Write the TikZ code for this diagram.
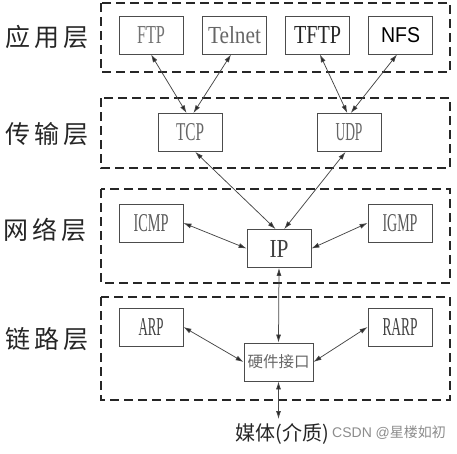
\documentclass[tikz,border=0pt]{standalone}
\usepackage{fontspec}
\usepackage{graphicx}
\setmainfont{Liberation Serif}
\newfontfamily\cjk{Noto Sans CJK SC}
\newfontfamily\lsans{Liberation Sans}
\usetikzlibrary{arrows.meta,calc}
\newcommand{\bxt}[2]{\resizebox{#1}{17pt}{#2}}
\begin{document}
\begin{tikzpicture}[x=1pt,y=-1pt,
  layer/.style={draw=black!85, line width=1.6pt, dash pattern=on 9pt off 5pt},
  pbox/.style={draw=black!70, line width=0.8pt, minimum width=64pt, minimum height=38pt, inner sep=0pt, text=black!70},
  conn/.style={draw=black!72, line width=0.75pt, {Latex[length=8pt,width=5pt,fill=black!85]}-{Latex[length=8pt,width=5pt,fill=black!85]}},
  lname/.style={font=\cjk\fontsize{25}{25}\selectfont, text=black!85, inner sep=0pt}
]
\useasboundingbox (0,0) rectangle (457,453);
% layer frames
\draw[layer] (101,3) rectangle (450,72);
\draw[layer] (101,98) rectangle (450,168);
\draw[layer] (101,189) rectangle (450,283);
\draw[layer] (101,297) rectangle (450,400);
% layer names
\node[lname] (la) at (47,37) {应\hspace{4pt}用\hspace{4pt}层};
\node[lname] (lt) at (47,134) {传\hspace{4pt}输\hspace{4pt}层};
\node[lname] (ln) at (45,230) {网\hspace{4pt}络\hspace{4pt}层};
\node[lname] (ll) at (47,339) {链\hspace{4pt}路\hspace{4pt}层};
% application
\node[pbox, text=black!55] (ftp) at (151,35) {\bxt{28pt}{FTP}};
\node[pbox, text=black!60] (tel) at (234.5,35) {\bxt{53pt}{Telnet}};
\node[pbox, text=black!85] (tftp) at (317.5,35) {\bxt{47pt}{TFTP}};
\node[pbox, text=black] (nfs) at (400.5,35) {\resizebox{39pt}{15pt}{\lsans NFS}};
% transport
\node[pbox, text=black!60] (tcp) at (190,132.5) {\bxt{28pt}{TCP}};
\node[pbox, text=black!60] (udp) at (349,132.5) {\bxt{27pt}{UDP}};
% network
\node[pbox, text=black!65] (icmp) at (151,223) {\bxt{35pt}{ICMP}};
\node[pbox, text=black!75] (ip) at (279,248.5) {\bxt{19pt}{IP}};
\node[pbox, text=black!65] (igmp) at (400,223) {\bxt{35pt}{IGMP}};
% link
\node[pbox, text=black!75] (arp) at (151,327) {\bxt{25pt}{ARP}};
\node[pbox, text=black!75] (rarp) at (400,327) {\bxt{35pt}{RARP}};
\node[pbox, minimum width=69pt, text=black!60, font=\cjk\fontsize{15.5}{16}\selectfont] (hw) at (278.5,362) {硬件接口};
% bottom texts
\node[font=\lsans\fontsize{14}{14}\selectfont, text=black!45, anchor=west, inner sep=0pt] (wm) at (332,433) {CSDN @{\cjk 星楼如初}};
\node[font=\cjk\fontsize{20}{20}\selectfont, text=black!85, inner sep=0pt] (media) at (282,434) {媒体(介质)};
\coordinate (mtop) at (278.5,419);
% connectors
\draw[conn] (ftp.south) -- (tcp.100);
\draw[conn] (tel.-100) -- (tcp.80);
\draw[conn] (tftp.-83) -- (udp.95);
\draw[conn] (nfs.-100) -- (udp.85);
\draw[conn] (tcp.-75) -- (ip.100);
\draw[conn] (udp.-100) -- (ip.75);
\draw[conn] (icmp.east) -- (ip.west);
\draw[conn] (igmp.west) -- (ip.east);
\draw[conn] (ip.south) -- (hw.north);
\draw[conn] (arp.east) -- (hw.west);
\draw[conn] (rarp.west) -- (hw.east);
\draw[conn] (hw.south) -- (mtop);
\end{tikzpicture}
\end{document}
